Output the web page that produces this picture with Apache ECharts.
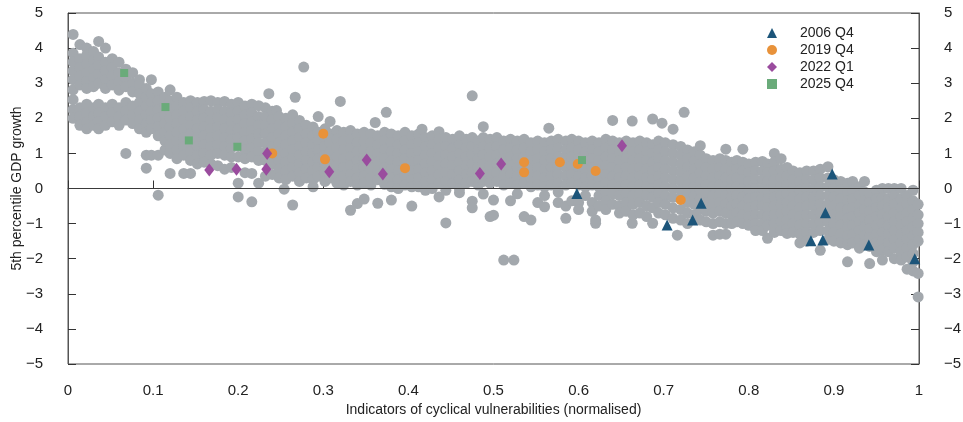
<!DOCTYPE html>
<html><head><meta charset="utf-8">
<script src="https://cdn.jsdelivr.net/npm/echarts@6/dist/echarts.min.js"></script>
<style>html,body{margin:0;padding:0;background:#fff}#c{width:963px;height:422px}</style>
</head><body><div id="c"></div>
<script>
const seriesNames = ['2006 Q4', '2019 Q4', '2022 Q1', '2025 Q4'];
const q2006X = [0.598, 0.704, 0.734, 0.744, 0.873, 0.887, 0.890, 0.898, 0.941, 0.995];
const q2006Y = [-0.14, -1.04, -0.90, -0.42, -1.49, -1.47, -0.69, 0.41, -1.61, -2.00];
const q2019X = [0.240, 0.300, 0.302, 0.396, 0.536, 0.536, 0.578, 0.599, 0.620, 0.720];
const q2019Y = [1.00, 1.56, 0.83, 0.58, 0.75, 0.46, 0.75, 0.70, 0.50, -0.33];
const q2022X = [0.166, 0.198, 0.233, 0.234, 0.307, 0.351, 0.370, 0.484, 0.509, 0.651];
const q2022Y = [0.53, 0.55, 0.55, 1.00, 0.48, 0.81, 0.41, 0.43, 0.70, 1.22];
const q2025X = [0.066, 0.1145, 0.142, 0.199, 0.604];
const q2025Y = [3.29, 2.32, 1.37, 1.19, 0.81];
const zeroLineX = [0, 1];
const zeroLineY = [0, 0];

// grey cloud: [x, [y values at that x]]
const greyColumns = [
[0.006,[4.39,3.85,3.6,3.35,3.1,2.81,2.53,2.25,2.0]],
[0.014,[4.1,3.7,3.45,3.2,2.95,2.3,2.05,1.8]],
[0.022,[4.0,3.8,3.55,3.3,3.05,2.85,2.4,2.15,1.9,1.7]],
[0.030,[3.9,3.65,3.4,3.15,2.9,2.3,2.05,1.8]],
[0.036,[4.19,3.75,3.5,3.25,3.0,2.4,2.15,1.9,1.7]],
[0.044,[4.0,3.6,3.35,3.1,2.85,2.3,2.05,1.8]],
[0.052,[3.7,3.45,3.2,2.95,2.4,2.15,1.9]],
[0.060,[3.6,3.3,3.05,2.8,2.3,2.05,1.8]],
[0.068,[3.4,3.15,2.9,2.45,2.2,1.95,1.0]],
[0.076,[3.3,3.0,2.75,2.35,2.1,1.85]],
[0.084,[3.1,2.95,2.7,2.45,2.2,1.95,1.7]],
[0.092,[2.85,2.6,2.35,2.1,1.85,1.6,0.95,0.58]],
[0.098,[3.1,2.7,2.45,2.2,1.95,1.7,0.95]],
[0.106,[2.75,2.5,2.25,2.0,1.75,1.5,0.95,-0.19]],
[0.114,[2.6,2.35,2.1,1.85,1.6,1.35,1.1]],
[0.120,[2.81,2.5,2.25,2.0,1.75,1.5,1.25,1.0,0.43]],
[0.128,[2.6,2.35,2.1,1.85,1.6,1.35,1.1,0.85]],
[0.136,[2.45,2.2,1.95,1.7,1.45,1.2,0.95,0.43]],
[0.144,[2.5,2.3,2.05,1.8,1.55,1.3,1.05,0.8,0.43]],
[0.152,[2.45,2.2,1.95,1.7,1.45,1.2,0.95,0.7]],
[0.160,[2.48,2.25,2.0,1.75,1.5,1.25,1.0,0.75]],
[0.168,[2.5,2.2,1.95,1.7,1.45,1.2,0.95,0.7]],
[0.176,[2.45,2.25,2.0,1.75,1.5,1.25,1.0,0.65]],
[0.184,[2.48,2.2,1.95,1.7,1.45,1.2,0.95,0.55]],
[0.192,[2.4,2.15,1.9,1.65,1.4,1.15,0.9,0.6]],
[0.200,[2.45,2.2,1.95,1.7,1.45,1.2,0.9,0.15,-0.24]],
[0.208,[2.35,2.1,1.85,1.6,1.35,1.1,0.85,0.45]],
[0.216,[2.4,2.15,1.9,1.65,1.4,1.15,0.9,0.43,-0.38]],
[0.224,[2.36,2.05,1.8,1.55,1.3,1.05,0.8,0.15]],
[0.232,[2.3,2.05,1.8,1.55,1.3,1.05,0.8,0.35]],
[0.236,[2.7]],
[0.240,[2.2,1.95,1.7,1.45,1.2,0.95,0.7,0.4]],
[0.245,[2.22]],
[0.248,[2.05,1.8,1.55,1.3,1.05,0.8,0.55,0.3]],
[0.254,[-0.02]],
[0.256,[2.0,1.75,1.5,1.25,1.0,0.75,0.5,0.25]],
[0.264,[2.1,1.85,1.6,1.35,1.1,0.85,0.6,0.35,-0.47]],
[0.267,[2.6]],
[0.272,[1.94,1.7,1.45,1.2,0.95,0.7,0.45,0.2]],
[0.277,[3.46]],
[0.280,[1.8,1.55,1.3,1.05,0.8,0.55,0.3]],
[0.288,[1.75,1.5,1.25,1.0,0.75,0.5,0.25,0.05]],
[0.294,[2.05,1.6,1.35,1.1,0.85,0.6,0.35]],
[0.302,[1.7,1.45,1.2,0.95,0.7,0.45,0.2]],
[0.308,[1.91,1.55,1.3,1.05,0.8,0.55,0.3]],
[0.316,[1.65,1.4,1.15,0.9,0.65,0.4,0.15]],
[0.320,[2.48]],
[0.324,[1.6,1.35,1.1,0.85,0.6,0.35,0.1]],
[0.332,[1.65,1.4,1.15,0.9,0.65,0.4,0.2,-0.62]],
[0.340,[1.55,1.3,1.05,0.8,0.55,0.3,0.1,-0.43]],
[0.348,[1.6,1.35,1.1,0.85,0.6,0.35,0.15,-0.3]],
[0.356,[1.55,1.3,1.05,0.8,0.55,0.3,0.1]],
[0.361,[1.88]],
[0.364,[1.5,1.25,1.0,0.75,0.5,0.25,-0.42]],
[0.372,[1.6,1.35,1.1,0.85,0.6,0.35,0.12]],
[0.374,[2.17]],
[0.380,[1.55,1.3,1.05,0.8,0.55,0.3,0.05,-0.33]],
[0.388,[1.5,1.25,1.0,0.75,0.5,0.25,0.0]],
[0.396,[1.6,1.35,1.1,0.85,0.6,0.35,0.1]],
[0.404,[1.5,1.25,1.0,0.75,0.5,0.25,0.05,-0.5]],
[0.412,[1.55,1.3,1.05,0.8,0.55,0.3,0.05]],
[0.416,[1.69]],
[0.420,[1.45,1.2,0.95,0.7,0.45,0.2,-0.05]],
[0.428,[1.5,1.25,1.0,0.75,0.5,0.25,0.0]],
[0.436,[1.62,1.4,1.15,0.9,0.65,0.4,0.15,-0.24]],
[0.444,[1.45,1.2,0.95,0.7,0.45,0.2,-0.05,-0.98]],
[0.452,[1.4,1.15,0.9,0.65,0.4,0.15]],
[0.460,[1.5,1.25,1.0,0.75,0.5,0.25,0.0,-0.12]],
[0.468,[1.4,1.15,0.9,0.65,0.4,0.15]],
[0.475,[2.64,1.45,1.2,0.95,0.7,0.45,0.2,-0.36,-0.55]],
[0.482,[1.35,1.1,0.85,0.6,0.35,0.1]],
[0.488,[1.76,1.45,1.2,0.95,0.7,0.45,0.2,-0.16]],
[0.496,[1.4,1.15,0.9,0.65,0.4,0.15,-0.8]],
[0.500,[-0.33,-0.76]],
[0.504,[1.45,1.2,0.95,0.7,0.45,0.2]],
[0.512,[1.35,1.1,0.85,0.6,0.35,0.1,-2.04]],
[0.520,[1.4,1.15,0.9,0.65,0.4,0.15,-0.35]],
[0.524,[-2.04]],
[0.528,[1.35,1.1,0.85,0.6,0.35,0.1,-0.15]],
[0.536,[1.4,1.15,0.9,0.65,0.4,0.15,-0.8]],
[0.544,[1.3,1.05,0.8,0.55,0.3,0.05,-0.9]],
[0.552,[1.35,1.1,0.85,0.6,0.35,0.1,-0.4]],
[0.560,[1.3,1.05,0.8,0.55,0.3,0.05,-0.2,-0.52]],
[0.565,[1.72]],
[0.568,[1.35,1.1,0.85,0.6,0.35,0.1]],
[0.576,[1.4,1.15,0.9,0.65,0.4,0.15,-0.1,-0.4]],
[0.585,[1.35,1.1,0.85,0.6,0.35,0.1,-0.5,-0.85]],
[0.592,[1.4,1.15,0.9,0.65,0.4,0.15,-0.35]],
[0.600,[1.35,1.1,0.85,0.6,0.35,0.1,-0.4,-0.6]],
[0.608,[1.3,1.05,0.8,0.55,0.3,0.05,-0.2]],
[0.616,[1.35,1.1,0.85,0.6,0.35,0.1,-0.4,-0.65]],
[0.620,[-0.9,-0.99]],
[0.624,[1.3,1.05,0.8,0.55,0.3,0.05,-0.2,-0.5]],
[0.632,[1.4,1.15,0.9,0.65,0.4,0.15,-0.1,-0.35,-0.6]],
[0.640,[1.94,1.35,1.1,0.85,0.6,0.35,0.1,-0.15,-0.45]],
[0.648,[1.3,1.05,0.8,0.55,0.3,0.05,-0.2,-0.5,-0.7]],
[0.656,[1.35,1.1,0.85,0.6,0.35,0.1,-0.15,-0.4,-0.65]],
[0.663,[1.92,-0.99]],
[0.664,[1.3,1.05,0.8,0.55,0.3,0.05,-0.2,-0.45,-0.75]],
[0.672,[1.35,1.1,0.85,0.6,0.35,0.1,-0.15,-0.4,-0.7]],
[0.680,[1.3,1.05,0.8,0.55,0.3,0.05,-0.2,-0.5,-0.8]],
[0.687,[1.98,1.25,1.0,0.75,0.5,0.25,0.0,-0.25,-0.55,-0.99]],
[0.694,[1.35,1.1,0.85,0.6,0.35,0.1,-0.15,-0.4,-0.7]],
[0.698,[1.86]],
[0.702,[1.3,1.05,0.8,0.55,0.3,0.05,-0.2,-0.45,-0.75]],
[0.711,[1.69,1.25,1.0,0.75,0.5,0.25,0.0,-0.25,-0.55,-0.85]],
[0.716,[-1.33]],
[0.720,[1.2,0.95,0.7,0.45,0.2,-0.05,-0.3,-0.6,-0.9]],
[0.724,[2.17]],
[0.728,[1.1,0.85,0.6,0.35,0.1,-0.15,-0.4,-0.7,-1.0]],
[0.736,[1.05,0.8,0.55,0.3,0.05,-0.2,-0.45,-0.75]],
[0.743,[1.22,0.95,0.7,0.45,0.2,-0.05,-0.3,-0.6,-0.9]],
[0.750,[0.85,0.6,0.35,0.1,-0.15,-0.4,-0.65,-0.95]],
[0.758,[0.8,0.55,0.3,0.05,-0.2,-0.45,-0.7,-1.0,-1.33]],
[0.766,[0.85,0.6,0.35,0.1,-0.15,-0.4,-0.65,-0.95,-1.3]],
[0.773,[1.12,0.8,0.55,0.3,0.05,-0.2,-0.45,-0.7,-1.0,-1.3]],
[0.780,[0.75,0.5,0.25,0.0,-0.25,-0.5,-0.75,-1.0]],
[0.786,[0.8,0.55,0.3,0.05,-0.2,-0.45,-0.7,-0.95]],
[0.793,[1.12,0.75,0.5,0.25,0.0,-0.25,-0.5,-0.75,-1.0]],
[0.800,[0.7,0.45,0.2,-0.05,-0.3,-0.55,-0.8,-1.05]],
[0.808,[0.75,0.5,0.25,0.0,-0.25,-0.5,-0.75,-1.0,-1.2]],
[0.816,[0.77,0.5,0.25,0.0,-0.25,-0.5,-0.75,-1.0,-1.2]],
[0.822,[0.7,0.45,0.2,-0.05,-0.3,-0.55,-0.8,-1.05,-1.42]],
[0.830,[1.0,0.75,0.5,0.25,0.0,-0.25,-0.5,-0.75,-1.0,-1.25]],
[0.838,[0.85,0.55,0.3,0.05,-0.2,-0.45,-0.7,-0.95,-1.2]],
[0.845,[0.6,0.35,0.1,-0.15,-0.4,-0.65,-0.9,-1.15,-1.28]],
[0.852,[0.5,0.25,0.0,-0.25,-0.5,-0.75,-1.0,-1.25]],
[0.860,[0.45,0.2,-0.05,-0.3,-0.55,-0.8,-1.05,-1.3,-1.55]],
[0.868,[0.5,0.25,0.0,-0.25,-0.5,-0.75,-1.0,-1.25,-1.5]],
[0.876,[0.5,0.25,0.0,-0.25,-0.5,-0.75,-1.0,-1.25]],
[0.884,[0.55,0.3,0.05,-0.2,-0.45,-0.7,-0.95,-1.2,-1.76]],
[0.893,[0.62,0.3,0.05,-0.2,-0.45,-0.7,-0.95,-1.2,-1.45]],
[0.900,[0.25,0.0,-0.25,-0.5,-0.75,-1.0,-1.25,-1.5]],
[0.908,[0.2,-0.05,-0.3,-0.55,-0.8,-1.05,-1.3,-1.55]],
[0.916,[0.15,-0.1,-0.35,-0.6,-0.85,-1.1,-1.35,-1.6,-2.09]],
[0.922,[0.2,-0.05,-0.3,-0.55,-0.8,-1.05,-1.3,-1.55]],
[0.930,[0.05,-0.2,-0.45,-0.7,-0.95,-1.2,-1.45,-1.7]],
[0.936,[0.2,-0.1,-0.35,-0.6,-0.85,-1.1,-1.35,-1.6]],
[0.942,[-0.15,-0.4,-0.65,-0.9,-1.15,-1.4,-1.65,-2.14]],
[0.950,[-0.05,-0.3,-0.55,-0.8,-1.05,-1.3,-1.55,-1.8]],
[0.957,[0.0,-0.25,-0.5,-0.75,-1.0,-1.25,-1.5,-1.75,-2.04]],
[0.964,[0.0,-0.3,-0.55,-0.8,-1.05,-1.3,-1.55,-1.8]],
[0.971,[0.0,-0.2,-0.45,-0.7,-0.95,-1.2,-1.45,-1.7,-2.0]],
[0.979,[0.0,-0.3,-0.55,-0.8,-1.05,-1.3,-1.55,-1.8,-2.04]],
[0.986,[-0.2,-0.45,-0.7,-0.95,-1.2,-1.45,-1.7,-1.95,-2.3]],
[0.993,[-0.05,-0.35,-0.6,-0.85,-1.1,-1.35,-1.6,-1.85,-2.1,-2.35]],
[0.999,[-0.45,-0.75,-1.0,-1.25,-1.5,-2.42,-3.09]]
];

const greyPoints = [];
greyColumns.forEach(function (c) { c[1].forEach(function (y) { greyPoints.push([c[0], y]); }); });
const zip = (xs, ys) => xs.map((x, i) => [x, ys[i]]);
const FONT = '"Liberation Sans", Arial, sans-serif';
const fmt = v => String(v).replace('-', '\u2212');

const yAxisBase = {
  type: 'value', min: -5, max: 5, interval: 1,
  axisLine: { show: true, lineStyle: { color: '#555', width: 1 } },
  axisTick: { show: true, inside: true, length: 8, lineStyle: { color: '#333' } },
  axisLabel: { fontSize: 15, color: '#222', fontFamily: FONT, margin: 25, formatter: fmt },
  splitLine: { show: false }
};

const chart = echarts.init(document.getElementById('c'), null, { renderer: 'canvas' });
chart.setOption({
  animation: false,
  backgroundColor: '#fff',
  grid: { left: 68, right: 44, top: 13, bottom: 58, containLabel: false, outerBoundsMode: 'none',
    show: true, borderColor: '#555', borderWidth: 1, backgroundColor: 'transparent' },
  xAxis: {
    type: 'value', min: 0, max: 1, interval: 0.1,
    axisLine: { show: true, lineStyle: { color: '#555', width: 1 } },
    axisTick: { show: true, inside: true, length: 8, lineStyle: { color: '#333' } },
    axisLabel: { fontSize: 15, color: '#222', fontFamily: FONT, margin: 19 },
    splitLine: { show: false },
    name: 'Indicators of cyclical vulnerabilities (normalised)',
    nameLocation: 'middle', nameGap: 39, nameMoveOverlap: false,
    nameTextStyle: { fontSize: 14, color: '#222', fontFamily: FONT }
  },
  yAxis: [
    Object.assign({}, yAxisBase, {
      position: 'left',
      name: '5th percentile GDP growth', nameLocation: 'middle', nameGap: 44, nameMoveOverlap: false,
      nameTextStyle: { fontSize: 14, color: '#222', fontFamily: FONT }
    }),
    Object.assign({}, yAxisBase, { position: 'right' })
  ],
  legend: {
    data: seriesNames,
    orient: 'vertical', left: 767, top: 26, padding: 0,
    itemWidth: 10, itemHeight: 10, itemGap: 3,
    textStyle: { fontSize: 14, color: '#222', fontFamily: FONT, padding: [0, 0, 0, 18] }
  },
  series: [
    {
      name: 'all', type: 'scatter', data: greyPoints, symbol: 'circle', symbolSize: 11,
      itemStyle: { color: '#a3a8ad', opacity: 1 }, silent: true, z: 1
    },
    {
      name: 'zero', type: 'line', data: zip(zeroLineX, zeroLineY), showSymbol: false, symbol: 'none',
      lineStyle: { color: '#3a3a3a', width: 1.2 }, silent: true, z: 2
    },
    { name: seriesNames[1], type: 'scatter', data: zip(q2019X, q2019Y), symbol: 'circle', symbolSize: 10, itemStyle: { color: '#e8923a', opacity: 1 }, z: 3 },
    { name: seriesNames[2], type: 'scatter', data: zip(q2022X, q2022Y), symbol: 'diamond', symbolSize: [10, 13], itemStyle: { color: '#9a4c9e', opacity: 1 }, z: 3 },
    { name: seriesNames[3], type: 'scatter', data: zip(q2025X, q2025Y), symbol: 'rect', symbolSize: 8, itemStyle: { color: '#6aab7a', opacity: 1 }, z: 3 },
    { name: seriesNames[0], type: 'scatter', data: zip(q2006X, q2006Y), symbol: 'triangle', symbolSize: 11, itemStyle: { color: '#1c557a', opacity: 1 }, z: 4 }
  ]
});
</script></body></html>
